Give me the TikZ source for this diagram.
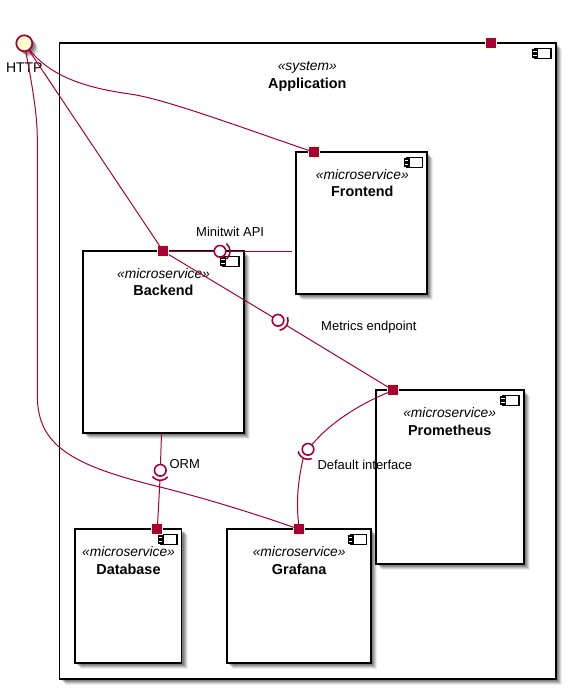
\documentclass[tikz,border=0pt]{standalone}
\usepackage{fontspec}
\setmainfont{Liberation Sans}
\usetikzlibrary{shadows}
\definecolor{plum}{HTML}{A80036}
\definecolor{cream}{HTML}{FEFECE}
\tikzset{
  softshadow/.style={
    drop shadow={shadow xshift=6pt,shadow yshift=-6pt,fill=black,opacity=.07},
    drop shadow={shadow xshift=5pt,shadow yshift=-5pt,fill=black,opacity=.10},
    drop shadow={shadow xshift=4pt,shadow yshift=-4pt,fill=black,opacity=.14},
    drop shadow={shadow xshift=3pt,shadow yshift=-3pt,fill=black,opacity=.16},
    drop shadow={shadow xshift=2pt,shadow yshift=-2pt,fill=black,opacity=.16}},
  compbox/.style={draw=black,fill=white,line width=1.8pt,rectangle,inner sep=0pt,outer sep=0pt,anchor=north west,softshadow},
  portbox/.style={draw=cream,fill=plum,line width=.8pt,rectangle,inner sep=0pt,outer sep=0pt,minimum size=11pt},
  actor/.style={draw=plum,fill=cream,line width=1.7pt,circle,inner sep=0pt,outer sep=0pt,minimum size=16pt,softshadow},
  lollipop/.style={draw=plum,fill=white,line width=1.6pt,circle,inner sep=0pt,outer sep=0pt,minimum size=11.6pt},
  socketarc/.style={draw=plum,line width=1.6pt},
  wire/.style={draw=plum,line width=1pt},
  stereo/.style={anchor=mid,inner sep=0pt,font=\fontsize{13.8}{16}\selectfont\itshape},
  titletext/.style={anchor=mid,inner sep=0pt,font=\fontsize{14.4}{17}\selectfont\bfseries},
  edgelabel/.style={anchor=mid west,inner sep=0pt,font=\fontsize{13}{15}\selectfont},
  compicon/.pic={
    \draw[black,fill=white,line width=1.4pt] (-20.6,5) rectangle (-4.6,15.4);
    \draw[black,fill=white,line width=1.4pt] (-23,6.8) rectangle (-18.4,9.6);
    \draw[black,fill=white,line width=1.4pt] (-23,10.8) rectangle (-18.4,13.6);
  }
}
\newcommand{\sockat}[3]{%
  \draw[socketarc] ([shift={(#2-50:10pt)}]#1.center) arc[start angle=#2-50,end angle=#2+50,radius=10pt];
  \coordinate (#3) at ([shift={(#2:10pt)}]#1.center);}
\begin{document}
\begin{tikzpicture}[x=1pt,y=-1pt]
\useasboundingbox (0,0) rectangle (568,692);
\fill[white] (0,0) rectangle (568,692);
% containers
\node[compbox,minimum width=496.2pt,minimum height=635.7pt] (app) at (59.5,43.3) {};
\pic at (app.north east) {compicon};
\node[stereo] (appS) at (307.3,68.3) {«system»};
\node[titletext] (appT) at (307.3,85.4) {Application};

\node[compbox,minimum width=131pt,minimum height=142pt] (front) at (296.3,152.3) {};
\pic at (front.north east) {compicon};
\node[stereo] (frontS) at (362.3,177.3) {«microservice»};
\node[titletext] (frontT) at (362.3,194.1) {Frontend};

\node[compbox,minimum width=160.4pt,minimum height=182pt] (back) at (83.3,251.3) {};
\pic at (back.north east) {compicon};
\node[stereo] (backS) at (163.5,276.3) {«microservice»};
\node[titletext] (backT) at (163.5,293.1) {Backend};

\node[compbox,minimum width=106.2pt,minimum height=134pt] (db) at (75.3,529.3) {};
\pic at (db.north east) {compicon};
\node[stereo] (dbS) at (128.5,554.3) {«microservice»};
\node[titletext] (dbT) at (128.5,571.4) {Database};

\node[compbox,minimum width=144.3pt,minimum height=134pt] (graf) at (227,529.3) {};
\pic at (graf.north east) {compicon};
\node[stereo] (grafS) at (299.2,554.3) {«microservice»};
\node[titletext] (grafT) at (299.2,571.4) {Grafana};

\node[compbox,minimum width=148pt,minimum height=174pt] (prom) at (375.7,390.3) {};
\pic at (prom.north east) {compicon};
\node[stereo] (promS) at (449.7,415.3) {«microservice»};
\node[titletext] (promT) at (449.7,432.4) {Prometheus};

% actor and its label
\node[actor] (http) at (24.3,43.3) {};
\node[anchor=mid,inner sep=0pt,font=\fontsize{14}{16}\selectfont] (httpL) at (24.3,69.4) {HTTP};

% edge labels
\node[edgelabel] (apiL) at (196,234.3) {Minitwit API};
\node[edgelabel] (metL) at (321,327.8) {Metrics endpoint};
\node[edgelabel] (ormL) at (169.3,466.3) {ORM};
\node[edgelabel] (defL) at (317.3,467) {Default interface};

% ports
\node[portbox] (pApp) at (491.3,43.3) {};
\node[portbox] (pFront) at (314.3,152.3) {};
\node[portbox] (pBack) at (163.3,251.3) {};
\node[portbox] (pDb) at (157.3,529.3) {};
\node[portbox] (pGraf) at (299.3,529.3) {};
\node[portbox] (pProm) at (393.3,390.3) {};

% provided interfaces
\node[lollipop] (iApi) at (220,251.3) {};
\node[lollipop] (iMet) at (278,320.3) {};
\node[lollipop] (iOrm) at (160.3,470.3) {};
\node[lollipop] (iDef) at (308,449.3) {};
\sockat{iApi}{0}{sApi}
\sockat{iMet}{-31}{sMet}
\sockat{iOrm}{-92}{sOrm}
\sockat{iDef}{-118}{sDef}
\coordinate (frontGap) at (291.7,251.3);
\coordinate (backBottom) at (161.5,433.3);

% connectors
\draw[wire] (http) .. controls (48,73) and (78,87) .. (130,94) .. controls (165,99) and (240,127) .. (pFront);
\draw[wire] (http) -- (pBack);
\draw[wire] (http) .. controls (33,90) and (37.3,115) .. (37.3,140) -- (37.3,395)
  .. controls (37.3,445) and (70,465) .. (160,487) .. controls (200,497) and (250,512) .. (pGraf);
\draw[wire] (pBack) -- (iApi);
\draw[wire] (sApi) -- (frontGap);
\draw[wire] (pBack) -- (iMet);
\draw[wire] (sMet) -- (pProm);
\draw[wire] (backBottom) -- (iOrm);
\draw[wire] (sOrm) -- (pDb);
\draw[wire] (pProm) .. controls (358,405) and (330,423) .. (iDef);
\draw[wire] (sDef) .. controls (298,480) and (296,502) .. (pGraf);
\end{tikzpicture}
\end{document}
